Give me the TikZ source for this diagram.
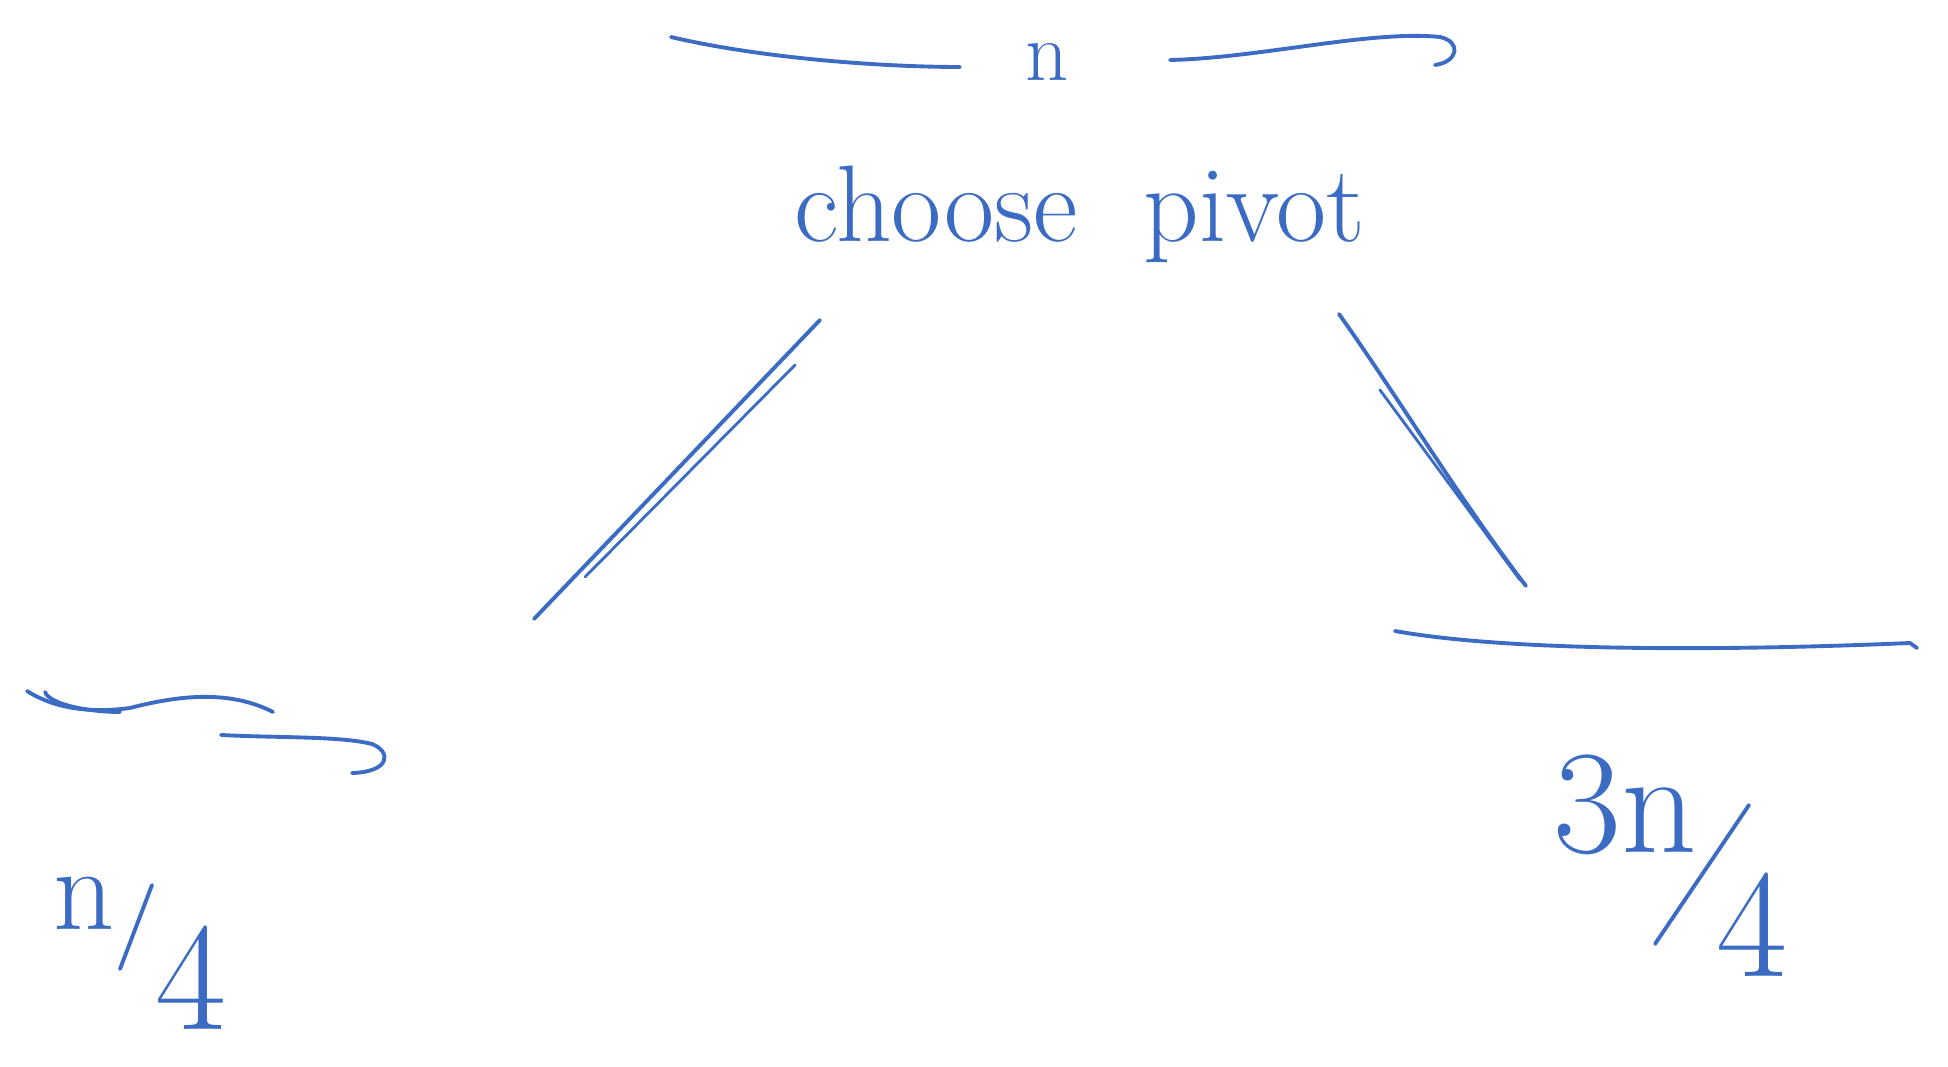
\documentclass[tikz,border=0pt]{standalone}
\usepackage{amsmath}
\usepackage{tikz}
\usepackage{xcolor}
\usetikzlibrary{positioning}
\definecolor{penblue}{HTML}{3B6BC3}

\begin{document}
\begin{tikzpicture}[
  x=0.01cm, y=-0.01cm,
  pen/.style={draw=penblue, line width=1.1pt, line cap=round, line join=round},
  scribble/.style={text=penblue, inner sep=0pt, font=\fontsize{31}{36}\selectfont},
  sizetag/.style={scribble, font=\fontsize{40}{46}\selectfont}
]
\useasboundingbox (0,0) rectangle (1948,1067);

% whole array of size n
\node[scribble, font=\fontsize{24}{28}\selectfont, anchor=base] (n) at (1047,81) {n};
\draw[pen] (671,37) .. controls (760,58) and (880,67) .. (960,67);
\draw[pen] (1170,60) .. controls (1260,58) and (1370,30) .. (1440,37) .. controls (1462,42) and (1458,62) .. (1435,65);

\node[scribble, anchor=base] (pivot) at (1080,242) {choose\ \ pivot};

% the two parts after partitioning
\coordinate (leftend) at (534,619);
\coordinate (rightend) at (1526,586);
\coordinate (leftstart) at (820,320);
\coordinate (rightstart) at (1339,314);

\draw[pen] (leftstart) -- (leftend);
\draw[pen, line width=0.8pt] (795,365) -- (585,577);
\draw[pen] (rightstart) .. controls (1400,400) and (1460,500) .. (rightend);
\draw[pen, line width=0.8pt] (1380,390) -- (1520,580);

% left part
\draw[pen] (27,691) .. controls (60,712) and (100,712) .. (130,708) .. controls (180,695) and (230,690) .. (273,712);
\draw[pen] (45,692) .. controls (50,705) and (90,712) .. (120,712);
\draw[pen] (221,735) .. controls (280,738) and (340,736) .. (372,744) .. controls (392,752) and (390,772) .. (352,773);
\node[sizetag, font=\fontsize{34}{40}\selectfont] (qnum) at (84,903) {n};
\node[sizetag, font=\fontsize{44}{50}\selectfont] (qden) at (191,978) {4};
\draw[pen] (152,885) -- (120,969);

% right part
\draw[pen] (1395,631) .. controls (1500,650) and (1700,652) .. (1910,643) -- (1917,648);
\node[sizetag, font=\fontsize{42}{48}\selectfont] (tqnum) at (1625,805) {3n};
\node[sizetag, font=\fontsize{44}{50}\selectfont] (tqden) at (1752,925) {4};
\draw[pen] (1749,805) -- (1655,944);

\end{tikzpicture}
\end{document}
